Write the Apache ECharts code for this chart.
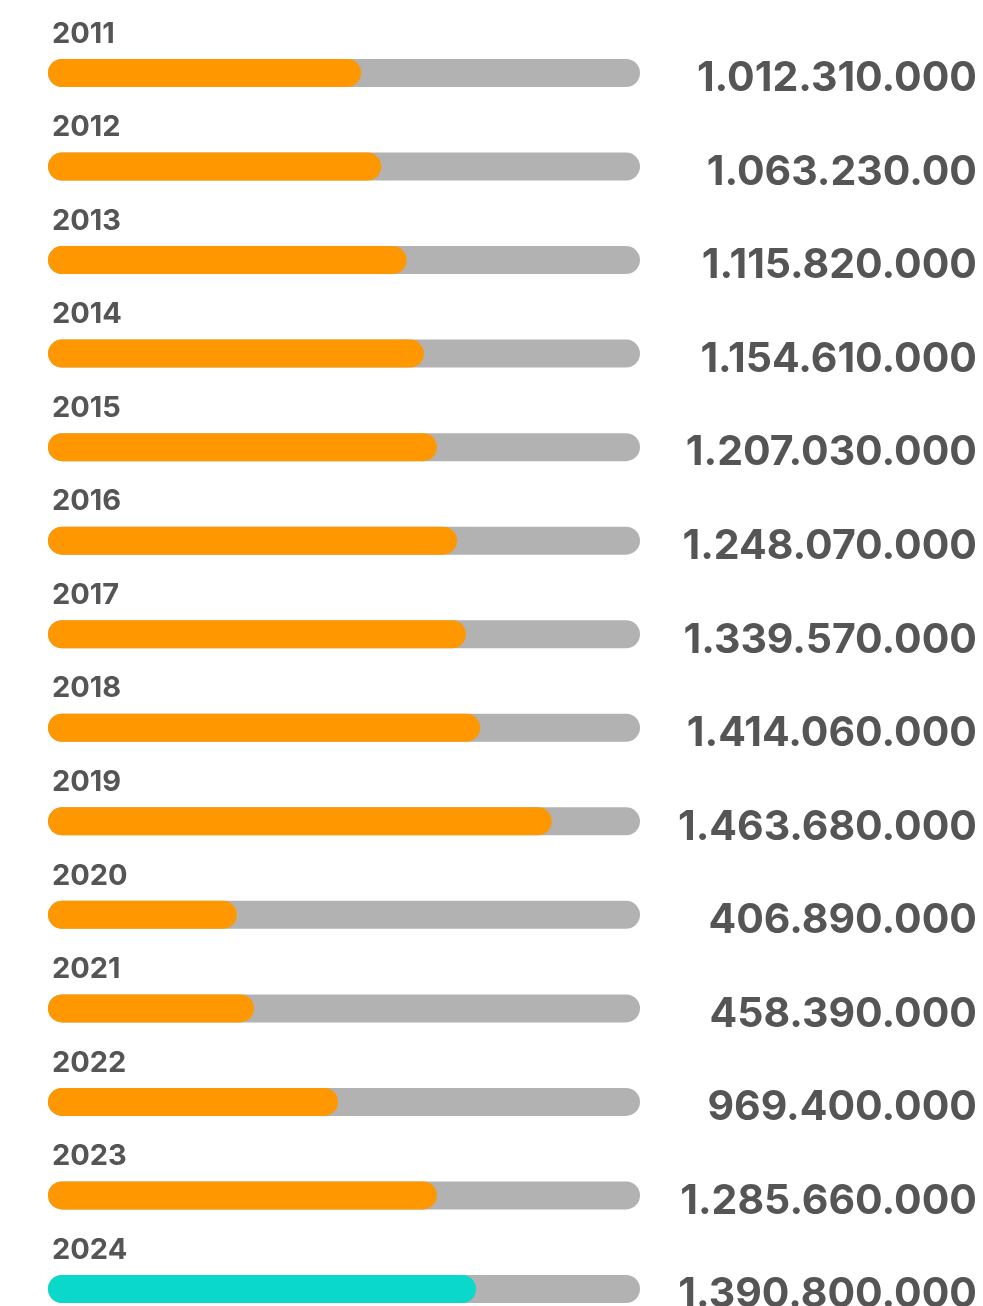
<!DOCTYPE html>
<html>
<head>
<meta charset="utf-8">
<script src="https://cdn.jsdelivr.net/npm/echarts@6/dist/echarts.min.js"></script>
<style>
html,body{margin:0;padding:0;background:#fff;}
#chart{width:983px;height:1306px;}
</style>
</head>
<body>
<div id="chart"></div>
<script>
const years = ['2011','2012','2013','2014','2015','2016','2017','2018','2019','2020','2021','2022','2023','2024'];
const valueLabels = ['1.012.310.000','1.063.230.00','1.115.820.000','1.154.610.000','1.207.030.000','1.248.070.000','1.339.570.000','1.414.060.000','1.463.680.000','406.890.000','458.390.000','969.400.000','1.285.660.000','1.390.800.000'];
const fillPercent = [52.9, 56.3, 60.6, 63.5, 65.7, 69.1, 70.6, 73.0, 85.1, 31.9, 34.8, 49.0, 65.7, 72.3];
const trackMax = 100;

const ORANGE = '#FF9800';
const TEAL = '#0AD8CA';
const GRAY = '#B2B2B2';
const TEXT = '#555555';
const FONT = 'Inter, "Open Sans", sans-serif';

const chart = echarts.init(document.getElementById('chart'), null, {renderer:'canvas'});
chart.setOption({
  animation: false,
  backgroundColor: '#ffffff',
  grid: {left: 48, right: 343, top: 73, bottom: 17, containLabel: false},
  xAxis: {type: 'value', min: 0, max: trackMax, show: false},
  yAxis: {type: 'category', data: years, inverse: true, boundaryGap: false, show: false},
  series: [
    {
      type: 'bar',
      name: 'track',
      data: years.map(() => trackMax),
      barWidth: 28,
      barGap: '-100%',
      itemStyle: {color: GRAY, borderRadius: 14},
      label: {
        show: true,
        position: [929, 20],
        align: 'right',
        verticalAlign: 'middle',
        formatter: p => valueLabels[p.dataIndex],
        fontFamily: FONT,
        fontWeight: 'bold',
        fontSize: 41,
        color: TEXT
      },
      z: 1
    },
    {
      type: 'bar',
      name: 'fill',
      data: fillPercent.map((v, i) => ({
        value: v,
        itemStyle: {color: i === years.length - 1 ? TEAL : ORANGE}
      })),
      barWidth: 28,
      barGap: '-100%',
      itemStyle: {borderRadius: 14},
      label: {
        show: true,
        position: [4, -25],
        align: 'left',
        verticalAlign: 'middle',
        formatter: p => years[p.dataIndex],
        fontFamily: FONT,
        fontWeight: 'bold',
        fontSize: 29,
        color: TEXT
      },
      z: 2
    }
  ]
});
</script>
</body>
</html>
